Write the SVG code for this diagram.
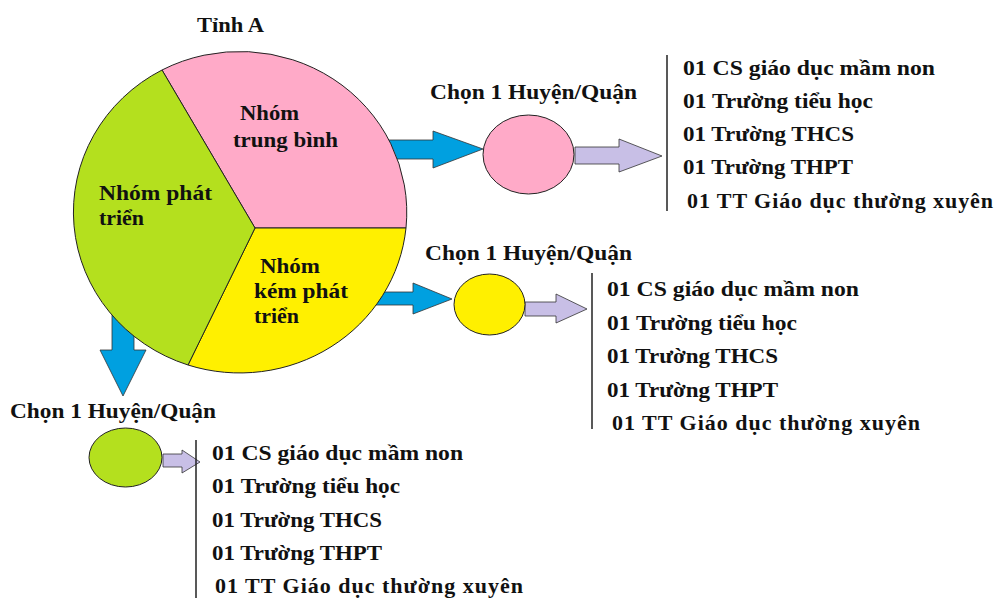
<svg xmlns="http://www.w3.org/2000/svg" width="998" height="598" viewBox="0 0 998 598">
<style>
text{font-family:"Liberation Serif","Times New Roman",serif;font-weight:bold;font-size:22px;fill:#111}
.blue{fill:#00A0E0;stroke:#333;stroke-width:0.8}
.lav{fill:#C8BFE6;stroke:#333;stroke-width:0.8}
.sl{stroke:#222;stroke-width:1}
.bar{stroke:#222;stroke-width:1.5;fill:none}
</style>
<g id="connectors">
<polygon class="blue" points="360,140 433,140 433,131 483,149 433,168 433,159 360,159"/>
<polygon class="blue" points="350,292 413,292 413,283 452,299 413,314 413,305 350,305"/>
<polygon class="blue" points="112,300 112,350 100,350 123,396 146,350 134,350 134,300"/>
<polygon class="lav" points="575,147 619,147 619,139 662,156 619,172 619,164 575,164"/>
<polygon class="lav" points="525,302 556,302 556,294 587,309 556,323 556,316 525,316"/>
<polygon class="lav" points="163,454 182,454 182,450 200,462 182,473 182,467 163,467"/>
</g>
<g id="pie">
<text x="197" y="32" textLength="67" lengthAdjust="spacingAndGlyphs">Tỉnh A</text>
<path class="sl" fill="#FFAAC8" d="M255,228 L162,70 A167,161 0 0 1 406,228 Z"/>
<path class="sl" fill="#FFF000" d="M255,228 L406,228 A167,161 0 0 1 188,365 Z"/>
<path class="sl" fill="#B4E01E" d="M255,228 L188,365 A167,161 0 0 1 162,70 Z"/>
<text x="240" y="120" textLength="59" lengthAdjust="spacingAndGlyphs">Nhóm</text>
<text x="233" y="147" textLength="105" lengthAdjust="spacingAndGlyphs">trung bình</text>
<text x="99" y="200" textLength="113" lengthAdjust="spacingAndGlyphs">Nhóm phát</text>
<text x="99" y="225" textLength="45" lengthAdjust="spacingAndGlyphs">triển</text>
<text x="260" y="273" textLength="60" lengthAdjust="spacingAndGlyphs">Nhóm</text>
<text x="254" y="298" textLength="94" lengthAdjust="spacingAndGlyphs">kém phát</text>
<text x="254" y="323" textLength="45" lengthAdjust="spacingAndGlyphs">triển</text>
</g>
<g id="district-top">
<text x="430" y="99" textLength="207" lengthAdjust="spacingAndGlyphs">Chọn 1 Huyện/Quận</text>
<ellipse cx="528.5" cy="154.5" rx="45.5" ry="39.5" fill="#FFAAC8" stroke="#222" stroke-width="1"/>
</g>
<g id="list-top">
<line class="bar" x1="667" y1="55" x2="667" y2="211"/>
<text x="683" y="75" textLength="252" lengthAdjust="spacingAndGlyphs">01 CS giáo dục mầm non</text>
<text x="683" y="108" textLength="190" lengthAdjust="spacingAndGlyphs">01 Trường tiểu học</text>
<text x="683" y="141" textLength="171" lengthAdjust="spacingAndGlyphs">01 Trường THCS</text>
<text x="683" y="174" textLength="170" lengthAdjust="spacingAndGlyphs">01 Trường THPT</text>
<text x="687" y="208" textLength="306" lengthAdjust="spacing">01  TT Giáo dục  thường xuyên</text>
</g>
<g id="district-mid">
<text x="425" y="260" textLength="207" lengthAdjust="spacingAndGlyphs">Chọn 1 Huyện/Quận</text>
<ellipse cx="489.5" cy="304.5" rx="35.5" ry="30.5" fill="#FFF000" stroke="#222" stroke-width="1"/>
</g>
<g id="list-mid">
<line class="bar" x1="592" y1="273" x2="592" y2="429"/>
<text x="607" y="296" textLength="252" lengthAdjust="spacingAndGlyphs">01 CS giáo dục mầm non</text>
<text x="607" y="330" textLength="190" lengthAdjust="spacingAndGlyphs">01 Trường tiểu học</text>
<text x="607" y="363" textLength="171" lengthAdjust="spacingAndGlyphs">01 Trường THCS</text>
<text x="607" y="397" textLength="171" lengthAdjust="spacingAndGlyphs">01 Trường THPT</text>
<text x="612" y="430" textLength="308" lengthAdjust="spacing">01  TT Giáo dục  thường xuyên</text>
</g>
<g id="district-bottom">
<text x="10" y="418" textLength="206" lengthAdjust="spacingAndGlyphs">Chọn 1 Huyện/Quận</text>
<ellipse cx="125.5" cy="457.5" rx="36.5" ry="29.5" fill="#B4E01E" stroke="#222" stroke-width="1"/>
</g>
<g id="list-bottom">
<line class="bar" x1="196" y1="440" x2="196" y2="598"/>
<text x="212" y="460" textLength="251" lengthAdjust="spacingAndGlyphs">01 CS giáo dục mầm non</text>
<text x="212" y="493" textLength="188" lengthAdjust="spacingAndGlyphs">01 Trường tiểu học</text>
<text x="212" y="527" textLength="170" lengthAdjust="spacingAndGlyphs">01 Trường THCS</text>
<text x="212" y="560" textLength="170" lengthAdjust="spacingAndGlyphs">01 Trường THPT</text>
<text x="215" y="593" textLength="308" lengthAdjust="spacing">01  TT Giáo dục  thường xuyên</text>
</g>
</svg>
